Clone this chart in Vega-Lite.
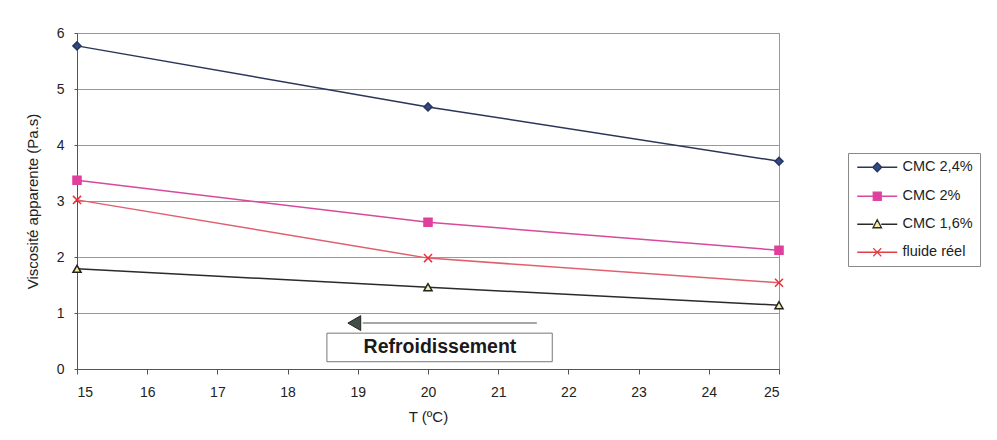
{
  "$schema": "https://vega.github.io/schema/vega-lite/v6.json",
  "width": 702,
  "height": 336,
  "autosize": "none",
  "padding": {"left": 77, "top": 33, "right": 218, "bottom": 71},
  "background": "white",
  "config": {
    "font": "Liberation Sans",
    "view": {"stroke": "#999", "strokeWidth": 1},
    "axis": {"labelFont": "Liberation Sans", "titleFont": "Liberation Sans", "labelFontSize": 14, "titleFontSize": 15, "titleFontWeight": "normal", "labelColor": "#222", "titleColor": "#222", "domainColor": "#555", "tickColor": "#555"},
    "legend": {"title": null, "orient": "none", "legendX": 771, "legendY": 120, "strokeColor": "#888", "padding": 7, "fillColor": "white", "symbolSize": 100, "labelFontSize": 14.5, "labelFont": "Liberation Sans", "labelColor": "#222", "labelOffset": 18, "rowPadding": 13, "symbolOffset": 15, "symbolOpacity": 1, "symbolStrokeWidth": 1.3}
  },
  "datasets": {
    "series": [
      {"series": "CMC 2,4%", "T": 15, "v": 5.77},
      {"series": "CMC 2,4%", "T": 20, "v": 4.68},
      {"series": "CMC 2,4%", "T": 25, "v": 3.71},
      {"series": "CMC 2%", "T": 15, "v": 3.37},
      {"series": "CMC 2%", "T": 20, "v": 2.62},
      {"series": "CMC 2%", "T": 25, "v": 2.12},
      {"series": "CMC 1,6%", "T": 15, "v": 1.79},
      {"series": "CMC 1,6%", "T": 20, "v": 1.46},
      {"series": "CMC 1,6%", "T": 25, "v": 1.14},
      {"series": "fluide réel", "T": 15, "v": 3.02},
      {"series": "fluide réel", "T": 20, "v": 1.98},
      {"series": "fluide réel", "T": 25, "v": 1.54}
    ]
  },
  "layer": [
    {
      "data": {"values": [{"x1": 18.56, "x2": 21.77, "y1": 0.13, "y2": 0.64}]},
      "mark": {"type": "rect", "fill": "white", "stroke": "#777", "strokeWidth": 1},
      "encoding": {
        "x": {"field": "x1", "type": "quantitative", "scale": {"domain": [15, 25], "nice": false, "zero": false},
          "title": "T (ºC)",
          "axis": {"tickCount": 10, "grid": false, "tickSize": 5, "labelPadding": 11, "titlePadding": 10}},
        "x2": {"field": "x2"},
        "y": {"field": "y1", "type": "quantitative", "scale": {"domain": [0, 6], "nice": false},
          "title": "Viscosité apparente (Pa.s)",
          "axis": {"tickCount": 6, "grid": true, "gridColor": "#999", "gridWidth": 1, "tickSize": 3, "labelPadding": 10, "titlePadding": 16}},
        "y2": {"field": "y2"}
      }
    },
    {
      "data": {"values": [{"x": 20.17, "y": 0.39, "label": "Refroidissement"}]},
      "mark": {"type": "text", "fontSize": 19.5, "fontWeight": "bold", "color": "#1a1a1a", "align": "center", "baseline": "middle"},
      "encoding": {
        "x": {"field": "x", "type": "quantitative"},
        "y": {"field": "y", "type": "quantitative"},
        "text": {"field": "label"}
      }
    },
    {
      "data": {"values": [{"x1": 19.07, "x2": 21.55, "y": 0.82}]},
      "mark": {"type": "rule", "stroke": "#888", "strokeWidth": 1.5},
      "encoding": {
        "x": {"field": "x1", "type": "quantitative"},
        "x2": {"field": "x2"},
        "y": {"field": "y", "type": "quantitative"}
      }
    },
    {
      "data": {"values": [{"x": 18.95, "y": 0.82}]},
      "mark": {"type": "point", "shape": "triangle-left", "size": 220, "filled": true, "fill": "#3f4f45", "stroke": "#222", "strokeWidth": 1, "opacity": 1},
      "encoding": {
        "x": {"field": "x", "type": "quantitative"},
        "y": {"field": "y", "type": "quantitative"}
      }
    },
    {
      "data": {"name": "series"},
      "mark": {"type": "line", "strokeWidth": 1.5},
      "encoding": {
        "x": {"field": "T", "type": "quantitative"},
        "y": {"field": "v", "type": "quantitative"},
        "stroke": {"field": "series", "type": "nominal", "legend": null,
          "scale": {"domain": ["CMC 2,4%", "CMC 2%", "CMC 1,6%", "fluide réel"], "range": ["#2a3558", "#d8489e", "#2a2a2a", "#e0606e"]}},
        "detail": {"field": "series"}
      }
    },
    {
      "data": {"name": "series"},
      "mark": {"type": "point", "size": 65, "strokeWidth": 1.5, "opacity": 1},
      "encoding": {
        "x": {"field": "T", "type": "quantitative"},
        "y": {"field": "v", "type": "quantitative"},
        "shape": {"field": "series", "type": "nominal", "legend": null,
          "scale": {"domain": ["CMC 2,4%", "CMC 2%", "CMC 1,6%", "fluide réel"], "range": ["diamond", "square", "triangle-up", "M-1,-1L1,1M-1,1L1,-1"]}},
        "stroke": {"field": "series", "type": "nominal", "legend": null,
          "scale": {"domain": ["CMC 2,4%", "CMC 2%", "CMC 1,6%", "fluide réel"], "range": ["#2a3558", "#e0409c", "#222222", "#e8303a"]}},
        "fill": {"field": "series", "type": "nominal", "legend": null,
          "scale": {"domain": ["CMC 2,4%", "CMC 2%", "CMC 1,6%", "fluide réel"], "range": ["#2d4a8c", "#e0409c", "#f3eea0", "transparent"]}}
      }
    },
    {
      "data": {"name": "series"},
      "mark": {"type": "point", "size": 100, "strokeWidth": 1.3, "opacity": 0},
      "encoding": {
        "x": {"field": "T", "type": "quantitative"},
        "y": {"field": "v", "type": "quantitative"},
        "shape": {"field": "series", "type": "nominal", "legend": {"title": null},
          "scale": {"domain": ["CMC 2,4%", "CMC 2%", "CMC 1,6%", "fluide réel"], "range": ["M-4,0H-0.9M0.9,0H4M0,-0.9L0.9,0L0,0.9L-0.9,0Z", "M-4,0H-0.8M0.8,0H4M-0.8,-0.8H0.8V0.8H-0.8Z", "M-4,0H-0.8M0.8,0H4M0,-0.9L0.85,0.7H-0.85Z", "M-4,0H4M-0.8,-0.8L0.8,0.8M-0.8,0.8L0.8,-0.8"]}},
        "stroke": {"field": "series", "type": "nominal", "legend": {"title": null},
          "scale": {"domain": ["CMC 2,4%", "CMC 2%", "CMC 1,6%", "fluide réel"], "range": ["#2a3558", "#d8489e", "#2a2a2a", "#e04048"]}},
        "fill": {"field": "series", "type": "nominal", "legend": {"title": null},
          "scale": {"domain": ["CMC 2,4%", "CMC 2%", "CMC 1,6%", "fluide réel"], "range": ["#2d4a8c", "#e0409c", "#f3eea0", "transparent"]}}
      }
    }
  ],
  "resolve": {"scale": {"stroke": "independent", "shape": "independent", "fill": "independent"}}
}
